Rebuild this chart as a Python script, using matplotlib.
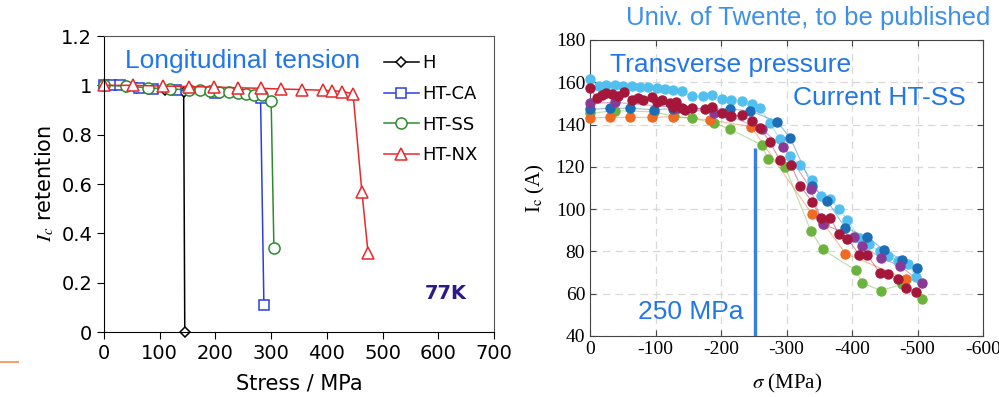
import matplotlib.pyplot as plt
from matplotlib.lines import Line2D

plt.rcParams['axes.unicode_minus'] = False
plt.rcParams['mathtext.fontset'] = 'stix'

# ---- left panel: longitudinal tension, Ic retention vs stress (77K) ----
h_x = [0, 20, 40, 60, 80, 109, 143, 145]
h_y = [1.0, 1.0, 0.995, 0.99, 0.985, 0.98, 0.975, 0.0]

ca_x = [0, 13, 28, 62, 88, 130, 200, 281, 287]
ca_y = [1.0, 1.0, 1.0, 0.99, 0.985, 0.98, 0.97, 0.95, 0.11]

ss_x = [0, 39, 79, 118, 153, 172, 190, 207, 225, 240, 255, 270, 284, 300, 305]
ss_y = [1.0, 0.997, 0.99, 0.985, 0.982, 0.98, 0.978, 0.975, 0.972, 0.969, 0.966, 0.962, 0.959, 0.936, 0.34]

nx_x = [0, 52, 106, 153, 198, 240, 282, 318, 355, 393, 410, 428, 447, 463, 474]
nx_y = [1.0, 1.0, 0.997, 0.995, 0.993, 0.99, 0.988, 0.985, 0.983, 0.98, 0.978, 0.975, 0.966, 0.566, 0.32]

# ---- right panel: transverse pressure, Ic vs sigma ----
lb_x = [0, -13, -25, -38, -51, -64, -76, -89, -102, -115, -127, -140, -155, -173, -186, -201, -216, -232,
        -247, -260, -275, -290, -306, -321, -339, -352, -367, -380, -393, -411, -426, -442, -455, -470, -485, -497]
lb_y = [161.5, 158, 158.7, 158.7, 158.3, 158, 157.7, 157.7, 157.3, 156.6, 156.3, 155.7, 153.3, 153.5, 153.8,
        152.3, 151.7, 151.3, 149.7, 147.7, 140.5, 133, 125, 121, 114, 106, 104.6, 100, 95, 86.5, 83.3, 80,
        77.8, 75.5, 74, 68]

db_x = [0, -31, -61, -97, -127, -214, -245, -286, -306, -339, -362, -390, -423, -449, -477, -499]
db_y = [147.2, 147.7, 147.7, 147, 147.5, 147.4, 146.4, 141.3, 133.5, 111, 104, 91, 87, 80.5, 75.9, 72]

pu_x = [0, -38, -135, -189, -214, -262, -295, -337, -355, -403, -416, -444, -474, -507]
pu_y = [150, 150.5, 148, 145.6, 144, 137.7, 129.5, 109.6, 93, 87, 82.6, 77, 73, 65]

dr_x = [0, -10, -18, -25, -33, -43, -52, -64, -74, -81, -94, -102, -110, -122, -127, -132, -140, -145, -155,
        -176, -186, -201, -216, -232, -247, -260, -275, -290, -307, -321, -339, -352, -367, -380, -393,
        -411, -423, -442, -455, -470, -483, -497]
dr_y = [157.1, 152.4, 154, 154.8, 154.5, 153.5, 155.6, 151.6, 152.4, 151.6, 152.9, 150.8, 151.6, 150, 148.5,
        150.8, 147.7, 147, 147.7, 147.4, 148.4, 145.4, 143.9, 144.6, 141.5, 138.3, 131.6, 123, 121, 111,
        103.5, 96, 96, 88, 86, 78.5, 78.5, 70, 69.5, 67, 62.6, 61]

or_x = [0, -31, -61, -94, -126, -183, -246, -339, -357, -390, -483]
or_y = [143.2, 143.4, 143.4, 143.4, 143.7, 142.2, 139, 97.6, 93, 79, 67]

gr_x = [0, -38, -98, -128, -155, -189, -214, -262, -272, -298, -337, -355, -406, -416, -444, -477, -507]
gr_y = [145.3, 146.6, 146, 143.9, 143.1, 140.7, 137.8, 130.3, 123.5, 120, 89.7, 81, 71, 65, 61.5, 64.5, 57.7]

fig = plt.figure(figsize=(9.99, 3.97), dpi=100)
blue_txt = '#2277e8'
sans = ['Liberation Sans', 'DejaVu Sans']

# left axes
ax1 = fig.add_axes([0.1041, 0.1637, 0.3904, 0.7456])
mk = dict(markerfacecolor='white', markersize=7, linewidth=1.1, clip_on=False, markeredgewidth=1.1)
ax1.plot(h_x, h_y, color='black', marker='D', label='H', **dict(mk, markersize=5))
ax1.plot(ca_x, ca_y, color='#2b3fe0', marker='s', label='HT-CA', **mk)
ax1.plot(ss_x, ss_y, color='#2e8b2e', marker='o', label='HT-SS', **dict(mk, markersize=8))
ax1.plot(nx_x, nx_y, color='#e8282a', marker='^', label='HT-NX', **dict(mk, markersize=8))
ax1.set_xlim(0, 700)
ax1.set_ylim(0, 1.2)
ax1.set_xticks(range(0, 701, 100))
ax1.set_yticks([0, 0.2, 0.4, 0.6, 0.8, 1.0, 1.2])
ax1.set_yticklabels(['0', '0.2', '0.4', '0.6', '0.8', '1', '1.2'])
ax1.tick_params(direction='out', labelsize=14, length=5)
for s in ['top', 'right']:
    ax1.spines[s].set_color('#555555')
ax1.set_xlabel('Stress / MPa', fontsize=15, labelpad=8)
ax1.set_ylabel('$I_c$ retention', fontsize=15, labelpad=4)
ax1.legend(loc='upper left', bbox_to_anchor=(0.70, 0.962), frameon=False, fontsize=13,
           handlelength=1.9, handletextpad=0.2, labelspacing=0.7, borderaxespad=0)
ax1.text(0.054, 0.915, 'Longitudinal tension', transform=ax1.transAxes, fontsize=19,
         color=blue_txt, family=sans, ha='left', va='center')
ax1.text(0.93, 0.13, '77K', transform=ax1.transAxes, fontsize=14, fontweight='bold',
         color='#2e1a87', ha='right', va='center')

# right axes
ax2 = fig.add_axes([0.5906, 0.1537, 0.3934, 0.7456])
series = [(gr_x, gr_y, '#6cb33e'), (or_x, or_y, '#ef6a22'), (lb_x, lb_y, '#52c0ee'),
          (db_x, db_y, '#1c6db5'), (pu_x, pu_y, '#8a3a96'), (dr_x, dr_y, '#a5173a')]
for xs, ys, c in series:
    ax2.plot(xs, ys, color=c, linewidth=0.8, alpha=0.45, zorder=2)
    ax2.plot(xs, ys, linestyle='none', marker='o', markersize=6.5, color=c, zorder=3, clip_on=False)
ax2.set_xlim(0, -600)
ax2.set_ylim(40, 180)
ax2.set_xticks(range(0, -601, -100))
ax2.set_yticks(range(40, 181, 20))
ax2.grid(True, linestyle=(0, (6, 4)), color='#d8d8d8', linewidth=0.9)
ax2.set_axisbelow(True)
ax2.tick_params(direction='in', top=True, right=True, length=4, labelsize=14, color='#444444')
for s in ax2.spines.values():
    s.set_color('#444444')
for lab in ax2.get_xticklabels() + ax2.get_yticklabels():
    lab.set_family('Liberation Serif')
ax2.set_xlabel(r'$\sigma$ (MPa)', fontsize=15, family='Liberation Serif', labelpad=10)
ax2.set_ylabel('I$_\\mathrm{c}$ (A)', fontsize=15, family='Liberation Serif', labelpad=6)
ax2.vlines(-252, 40, 129, color='#3a7de8', linewidth=2.4, zorder=4)
ax2.text(0.05, 0.915, 'Transverse pressure', transform=ax2.transAxes, fontsize=19,
         color=blue_txt, family=sans, ha='left', va='center')
ax2.text(0.955, 0.805, 'Current HT-SS', transform=ax2.transAxes, fontsize=19,
         color=blue_txt, family=sans, ha='right', va='center')
ax2.text(0.39, 0.08, '250 MPa', transform=ax2.transAxes, fontsize=19,
         color=blue_txt, family=sans, ha='right', va='center')

fig.text(0.991, 0.955, 'Univ. of Twente, to be published', fontsize=18.5, color='#3d8fe8',
         family=sans, ha='right', va='center')
fig.add_artist(Line2D([0, 0.018], [0.088, 0.088], color='#f4a070', linewidth=1.5))

fig.savefig('out.png', dpi=100)
